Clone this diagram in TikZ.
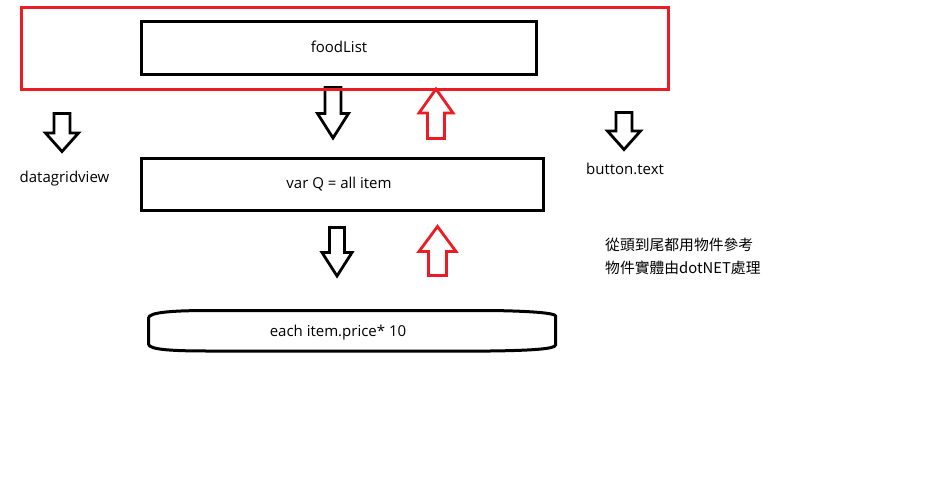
\documentclass[tikz,border=0pt]{standalone}
\usepackage{fontspec}
\setmainfont{Open Sans}
\newfontfamily\cjkfont{Noto Sans CJK TC}
\definecolor{pred}{RGB}{237,28,36}
\newcommand\bkarrow[7]{%
  \draw[#1] ({#2-#6},#3) -- ({#2+#6},#3) -- ({#2+#6},#4) -- ({#2+#7},#4) -- (#2,#5) -- ({#2-#7},#4) -- ({#2-#6},#4) -- cycle;}
\begin{document}
\begin{tikzpicture}[x=1pt,y=-1pt,
  box/.style={draw=black,line width=3pt,rectangle,inner sep=0pt},
  lbl/.style={font=\fontsize{15}{18}\selectfont,inner sep=0pt},
  cjk/.style={font=\cjkfont\fontsize{14.8}{18}\selectfont,inner sep=0pt,anchor=west},
  blk/.style={draw=black,line width=2.8pt,line join=miter},
  rd/.style={draw=pred,line width=2.8pt,line join=miter}]
\useasboundingbox[fill=white] (0,0) rectangle (947,482);
% upper black arrow (behind the red frame)
\bkarrow{blk}{333}{87.5}{113.5}{138}{8}{15.5}
% red frame
\node[draw=pred,line width=3pt,rectangle,minimum width=647pt,minimum height=82pt,inner sep=0pt] (frame) at (345,48.5) {};
% foodList box
\node[box,minimum width=395pt,minimum height=53pt] (food) at (339,48) {};
\node[lbl,anchor=base] (foodt) at (339,52) {foodList};
% upper red arrow
\bkarrow{rd}{436}{138.5}{113}{89}{8.5}{17}
% side arrows
\bkarrow{blk}{62}{113.5}{133}{151.5}{8}{16.5}
\bkarrow{blk}{624}{112.5}{131}{149.5}{8}{16.5}
\node[lbl,anchor=base] (dgv) at (64.5,182) {datagridview};
\node[lbl,anchor=base] (btn) at (625,174) {button.text};
% var Q box
\node[box,minimum width=402pt,minimum height=52pt] (varq) at (342.5,184.5) {};
\node[lbl,anchor=base] (varqt) at (339,188) {var Q = all item};
% lower arrows
\bkarrow{blk}{337}{227.5}{252.5}{276}{7.5}{15}
\bkarrow{rd}{437.5}{275.5}{251.5}{226.5}{9}{18.5}
% CJK notes
\node[cjk] (n1) at (605,245) {從頭到尾都用物件參考};
\node[cjk] (n2) at (605,268) {物件實體由dotNET處理};
% each item shape
\node[lbl,anchor=base] (each) at (338,336) {each item.price* 10};
\draw[line width=3pt] (148.5,318) -- (148.5,344)
  .. controls (148.5,350) and (175,351) .. (210,351) -- (490,351)
  .. controls (530,350.5) and (555.5,349) .. (555.5,345) -- (555.5,316)
  .. controls (555.5,313) and (530,311) .. (490,310.5) -- (210,310.5)
  .. controls (175,310.5) and (148.5,312) .. (148.5,318) -- cycle;
\end{tikzpicture}
\end{document}
